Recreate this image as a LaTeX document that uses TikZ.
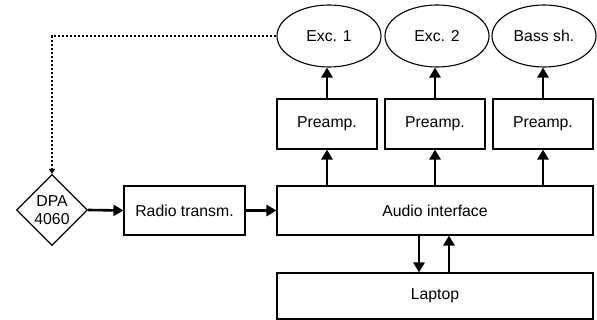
\documentclass[tikz,border=0pt]{standalone}
\usepackage{fontspec}
\setmainfont{Liberation Sans}
\usetikzlibrary{shapes.geometric, arrows.meta, positioning}

\begin{document}
\begin{tikzpicture}[
x=1pt, y=-1pt,
every node/.style={font=\fontsize{15.8}{17.5}\selectfont},
block/.style={
    rectangle,
    draw=black,
    line width=1.1pt,
    align=center,
    inner sep=0pt
},
speaker/.style={
    ellipse,
    draw=black,
    line width=1.1pt,
    minimum width=104pt,
    minimum height=62pt,
    inner sep=0pt
},
mic/.style={
    diamond,
    draw=black,
    line width=1.1pt,
    align=center,
    minimum size=71pt,
    inner sep=0pt
},
arrow/.style={
    -{Triangle[length=10pt,width=11pt]},
    line width=2.6pt
},
link/.style={
    -{Triangle[length=5pt,width=6pt]},
    line width=1.1pt,
    dash pattern=on 2.5pt off 1.5pt
}
]
\useasboundingbox (0,0) rectangle (597,320);

% loudspeakers
\node (exc1) [speaker] at (329,36) {Exc. 1};
\node (exc2) [speaker] at (437,36) {Exc. 2};
\node (bass) [speaker] at (544,36) {Bass sh.};

% preamplifiers
\node (pre1) [block, minimum width=100pt, minimum height=50pt] at (327,124) {Preamp.};
\node (pre2) [block, minimum width=100pt, minimum height=50pt] at (435,124) {Preamp.};
\node (pre3) [block, minimum width=100pt, minimum height=50pt] at (543,124) {Preamp.};

% signal chain
\node (dpa) [mic] at (52,210) {DPA\\4060};
\node (radio) [block, minimum width=121pt, minimum height=49pt] at (184.5,210.5) {Radio transm.};
\node (audio) [block, minimum width=316pt, minimum height=49pt] at (435,210.5) {Audio interface};
\node (laptop) [block, minimum width=316pt, minimum height=46pt] at (435,296) {Laptop};

\draw [arrow] (dpa.east) -- (radio.west);
\draw [arrow] (radio.east) -- (audio.west);

\draw [arrow] (audio.north -| pre1) -- (pre1.south);
\draw [arrow] (audio.north -| pre2) -- (pre2.south);
\draw [arrow] (audio.north -| pre3) -- (pre3.south);

\draw [arrow] (pre1.north) -- (pre1.north |- exc1.south);
\draw [arrow] (pre2.north) -- (pre2.north |- exc2.south);
\draw [arrow] (pre3.north) -- (pre3.north |- bass.south);

\draw [arrow] ([xshift=-16pt]audio.south) -- ([xshift=-16pt]laptop.north);
\draw [arrow] ([xshift=14pt]laptop.north) -- ([xshift=14pt]audio.south);

% acoustic feedback path
\draw [link] (exc1.west) -| (dpa.north);

\end{tikzpicture}
\end{document}
